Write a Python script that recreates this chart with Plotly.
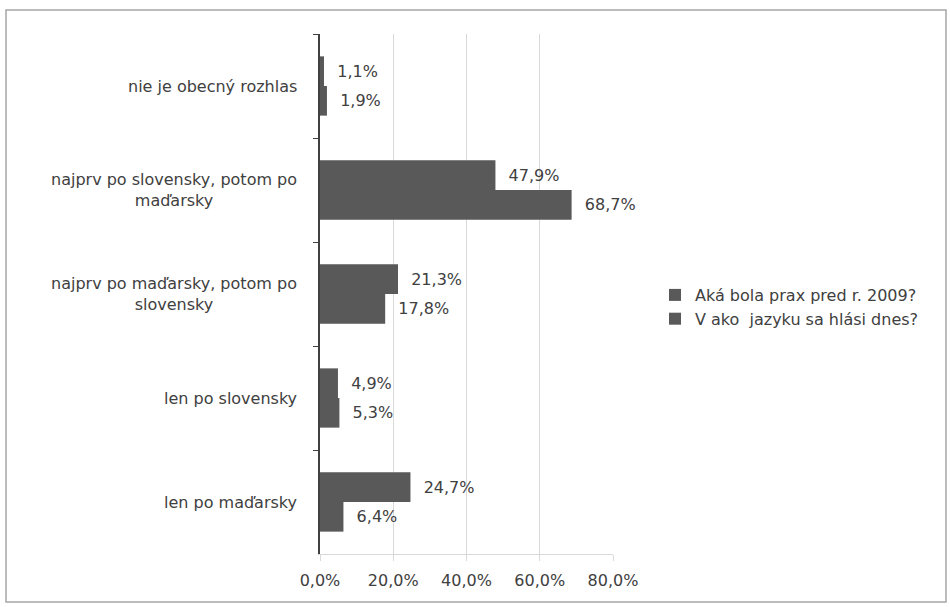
import plotly.graph_objects as go

categories = ["nie je obecný rozhlas",
              "najprv po slovensky, potom po<br>maďarsky",
              "najprv po maďarsky, potom po<br>slovensky",
              "len po slovensky",
              "len po maďarsky"]
series_names = ["Aká bola prax pred r. 2009?", "V ako  jazyku sa hlási dnes?"]
values_before = [1.1, 47.9, 21.3, 4.9, 24.7]
values_today = [1.9, 68.7, 17.8, 5.3, 6.4]
x_ticks = [0, 20, 40, 60, 80]
x_tick_labels = ["0,0%", "20,0%", "40,0%", "60,0%", "80,0%"]

FONT = "DejaVu Sans"
FS = 16
TXT = "#404040"
BAR = "#595959"

L, R, T, B = 320, 337, 34, 53
W, H = 950, 607
pw = W - L - R
ph = H - T - B

fig = go.Figure()
for i, (name, vals) in enumerate([(series_names[0], values_before), (series_names[1], values_today)]):
    fig.add_trace(go.Bar(
        y=categories, x=vals, name=name, orientation="h",
        marker=dict(color=BAR, line=dict(width=0)),
        texttemplate="\u00a0\u00a0%{x:.1f}%", textposition="outside",
        textfont=dict(family=FONT, size=FS, color=TXT),
        cliponaxis=False, legendgroup=f"g{i}",
    ))

for c in categories:
    fig.add_annotation(x=-0.07, xref="paper", y=c, yref="y", text=c,
                       xanchor="right", yanchor="middle", align="center",
                       showarrow=False, font=dict(family=FONT, size=FS, color=TXT))

fig.add_shape(type="rect", xref="paper", yref="paper",
              x0=(6 - L) / pw, x1=(946 - L) / pw,
              y0=-(602 - (H - B)) / ph, y1=1 + (T - 10) / ph,
              line=dict(color="#a6a6a6", width=1.5), layer="below")

fig.update_layout(
    width=W, height=H,
    margin=dict(l=L, r=R, t=T, b=B),
    paper_bgcolor="white", plot_bgcolor="white",
    separators=", ",
    barmode="group", bargap=0.43, bargroupgap=0,
    font=dict(family=FONT, size=FS, color=TXT),
    showlegend=True,
    legend=dict(x=(655 - L) / pw, xanchor="left", y=1 - (307 - T) / ph, yanchor="middle",
                traceorder="normal", tracegroupgap=19,
                font=dict(family=FONT, size=FS, color=TXT), itemwidth=30),
    xaxis=dict(range=[0, 80], tickvals=x_ticks, ticktext=x_tick_labels,
               showgrid=True, gridcolor="#d9d9d9", gridwidth=1,
               zeroline=False, showline=True, linecolor="#d9d9d9",
               ticks="outside", ticklen=6, tickcolor="#d9d9d9",
               ticklabelstandoff=6,
               tickfont=dict(family=FONT, size=FS, color=TXT)),
    yaxis=dict(autorange="reversed", showticklabels=False, showgrid=False,
               showline=True, linecolor="#404040", linewidth=1.5,
               ticks="outside", tickson="boundaries", ticklen=5, tickcolor="#404040"),
)

fig.write_html("out.html")
